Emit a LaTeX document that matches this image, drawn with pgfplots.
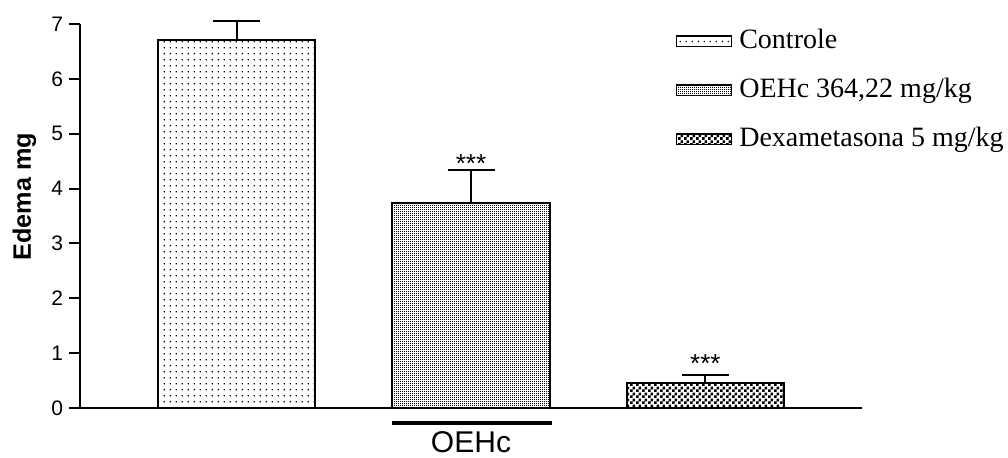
\documentclass[border=0pt]{standalone}
\usepackage{fontspec}
\setmainfont{Liberation Serif}
\newfontfamily\arial{Liberation Sans}
\usepackage{pgfplots}
\pgfplotsset{compat=1.18}
\usetikzlibrary{patterns}

\pgfdeclarepatternformonly{sparsedots}{\pgfpointorigin}{\pgfqpoint{3pt}{3pt}}{\pgfqpoint{3pt}{3pt}}{%
  \pgfpathrectangle{\pgfqpoint{1pt}{1pt}}{\pgfqpoint{0.7pt}{0.7pt}}\pgfusepath{fill}}
\pgfdeclarepatternformonly{densedots}{\pgfpointorigin}{\pgfqpoint{1pt}{1pt}}{\pgfqpoint{1pt}{1pt}}{%
  \pgfpathrectangle{\pgfqpoint{0pt}{0pt}}{\pgfqpoint{0.6pt}{0.6pt}}\pgfusepath{fill}}
\pgfdeclarepatternformonly{checker}{\pgfpointorigin}{\pgfqpoint{3pt}{3pt}}{\pgfqpoint{3pt}{3pt}}{%
  \pgfpathrectangle{\pgfqpoint{0pt}{0pt}}{\pgfqpoint{1.5pt}{1.5pt}}%
  \pgfpathrectangle{\pgfqpoint{1.5pt}{1.5pt}}{\pgfqpoint{1.5pt}{1.5pt}}\pgfusepath{fill}}

\begin{document}
\begin{tikzpicture}
\begin{axis}[
  scale only axis,
  width=391pt, height=192pt,
  xmin=0.332, xmax=3.668,
  ymin=0, ymax=7,
  ytick={0,1,2,3,4,5,6,7},
  xtick=\empty,
  axis lines*=left,
  axis line style={line width=1pt},
  tick align=outside,
  major tick length=5.5pt,
  every tick/.style={line width=1pt, black},
  /pgf/number format/assume math mode=true,
  tick label style={font=\arial\fontsize{10.5}{12}\selectfont},
  yticklabel style={xshift=0.5pt},
  ylabel={Edema mg},
  ylabel style={font=\arial\bfseries\fontsize{12.6}{14}\selectfont, at={(axis description cs:-0.071,0.55)}, anchor=center, rotate=0},
  clip=false,
  legend style={draw=none, fill=none, at={(axis description cs:0.761,0.99)}, anchor=north west,
    inner sep=0pt, row sep=11.5pt, column sep=3.5pt, font=\fontsize{14}{16}\selectfont,
    nodes={inner sep=0pt, text height=10pt, text depth=3pt}},
  legend cell align=left,
  legend image code/.code={\draw[#1, line width=0.9pt] (0pt,-2.6pt) rectangle (27.5pt,2.6pt);},
]
\addplot[ybar, bar width=78.5pt, draw=black, line width=1pt, pattern=sparsedots,
  error bars/.cd, y dir=plus, y explicit,
  error bar style={line width=1pt, black},
  error mark options={black, line width=1pt, mark size=11.75pt, rotate=90}]
  coordinates {(1,6.71) +- (0,0.34)};
\addlegendentry{Controle}
\addplot[ybar, bar width=78.5pt, draw=black, line width=1pt, pattern=densedots,
  error bars/.cd, y dir=plus, y explicit,
  error bar style={line width=1pt, black},
  error mark options={black, line width=1pt, mark size=11.75pt, rotate=90}]
  coordinates {(2,3.74) +- (0,0.60)};
\addlegendentry{OEHc 364,22 mg/kg}
\addplot[ybar, bar width=78.5pt, draw=black, line width=1pt, pattern=checker,
  error bars/.cd, y dir=plus, y explicit,
  error bar style={line width=1pt, black},
  error mark options={black, line width=1pt, mark size=11.75pt, rotate=90}]
  coordinates {(3,0.46) +- (0,0.14)};
\addlegendentry{Dexametasona 5 mg/kg}
\node[anchor=base, font=\arial\fontsize{13}{15}\selectfont, inner sep=0pt] at (axis cs:2,4.29) {***};
\node[anchor=base, font=\arial\fontsize{13}{15}\selectfont, inner sep=0pt] at (axis cs:3,0.65) {***};
\draw[line width=1.7pt] (axis cs:1.664,-0.273) -- (axis cs:2.347,-0.273);
\node[anchor=center, font=\arial\fontsize{15}{17}\selectfont, inner sep=0pt] at (axis cs:2,-0.62) {OEHc};
\end{axis}
\pgfresetboundingbox
\path (-40pt,-24.5pt) rectangle (464pt,204pt);
\end{tikzpicture}
\end{document}
